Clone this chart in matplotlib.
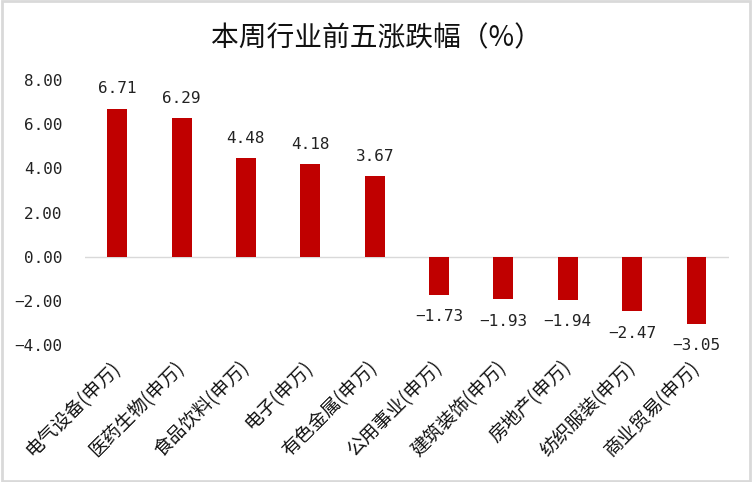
import matplotlib
matplotlib.use("Agg")
import matplotlib.pyplot as plt
from matplotlib.patches import Rectangle

plt.rcParams['font.family'] = ['Noto Sans CJK SC', 'DejaVu Sans']
plt.rcParams['axes.unicode_minus'] = True

industries = ["电气设备(申万)", "医药生物(申万)", "食品饮料(申万)", "电子(申万)", "有色金属(申万)",
              "公用事业(申万)", "建筑装饰(申万)", "房地产(申万)", "纺织服装(申万)", "商业贸易(申万)"]
changes = [6.71, 6.29, 4.48, 4.18, 3.67, -1.73, -1.93, -1.94, -2.47, -3.05]
yticks = [-4, -2, 0, 2, 4, 6, 8]

num_font = ["DejaVu Sans Mono"]


def fmt(v):
    return f"{v:.2f}".replace("-", "\u2212")


fig = plt.figure(figsize=(7.52, 4.82), dpi=100)
ax = fig.add_axes([0.113, 0.284, 0.856, 0.55])

x = range(len(industries))
ax.bar(x, changes, width=0.31, color="#C00000", zorder=3)
ax.axhline(0, color="#d9d9d9", lw=1, zorder=2)

for i, v in enumerate(changes):
    if v > 0:
        ax.text(i, v + 0.55, fmt(v), ha="center", va="bottom",
                fontsize=11.5, color="#222222", family=num_font)
    else:
        ax.text(i, v - 0.65, fmt(v), ha="center", va="top",
                fontsize=11.5, color="#222222", family=num_font)

ax.set_xlim(-0.5, len(industries) - 0.5)
ax.set_ylim(-4, 8)
ax.set_yticks(yticks)
ax.set_yticklabels([fmt(t) for t in yticks], fontsize=11.5, color="#222222", family=num_font)
ax.set_xticks(list(x))
ax.set_xticklabels(industries, rotation=45, ha="right", va="center", rotation_mode="anchor",
                   fontsize=13.5, color="#111111")
ax.tick_params(axis="both", length=0)
ax.tick_params(axis="y", pad=16)
ax.tick_params(axis="x", pad=14)
for s in ax.spines.values():
    s.set_visible(False)

fig.text(0.5, 0.92, "本周行业前五涨跌幅（%）", ha="center", va="center", fontsize=20, color="#111111")
fig.patches.append(Rectangle((0.002, 0.003), 0.996, 0.994, transform=fig.transFigure,
                             fill=False, edgecolor="#d9d9d9", lw=2))

fig.savefig("out.png", dpi=100)
